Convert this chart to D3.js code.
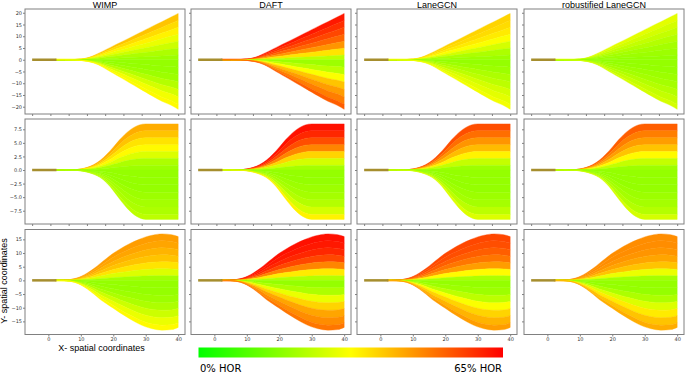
<!DOCTYPE html>
<html>
<head>
<meta charset="utf-8">
<title>HOR trajectories</title>
<script src="https://d3js.org/d3.v7.min.js"></script>
<style>
  body { margin: 0; background: #fff; }
  .tick text { font-family: "DejaVu Sans", sans-serif; font-size: 5px; fill: #333; }
  .tick line { stroke: #808080; }
</style>
</head>
<body>
<script>
// models (columns)
var models = ["WIMP", "DAFT", "LaneGCN", "robustified LaneGCN"];

var sampleX = [2, 5, 8, 10, 12, 14, 16, 18, 20, 22, 25, 28, 30, 32, 35, 38, 40];

// upper / lower envelope of the fan for each row (straight, turn, curve)
var upperRow1 = [0, 0, 0.1, 0.3, 0.8, 1.8, 3.1, 4.5, 5.9, 7.25, 9.3, 11.4, 12.8, 14.2, 16.2, 18.3, 19.7];
var lowerRow1 = [0, 0, -0.1, -0.3, -0.7, -1.4, -2.6, -4.2, -5.8, -7.4, -9.8, -12.2, -13.8, -15.4, -17.7, -19.5, -21.1];
var upperRow2 = [0, 0, 0.05, 0.2, 0.5, 1.0, 1.8, 2.9, 4.2, 5.6, 7.3, 8.3, 8.5, 8.5, 8.5, 8.5, 8.5];
var lowerRow2 = [0, 0, -0.05, -0.15, -0.4, -0.8, -1.4, -2.4, -3.8, -5.4, -7.5, -8.8, -9.1, -9.1, -9.1, -9.1, -9.1];
var upperRow3 = [0, 0.1, 0.6, 1.4, 2.7, 4.3, 6.2, 8.1, 9.9, 11.4, 13.4, 15.0, 15.9, 16.5, 17.0, 16.7, 16.0];
var lowerRow3 = [0, -0.1, -0.7, -1.7, -3.2, -5.0, -7.0, -8.6, -10.2, -11.8, -14.0, -16.0, -17.0, -17.7, -18.2, -18.0, -17.2];

// lateral position of the band edges, 1 = upper envelope, -1 = lower envelope
var bandEdges = [1, 0.85, 0.7, 0.55, 0.4, 0.25, 0.1, 0, -0.15, -0.3, -0.45, -0.6, -0.75, -0.9, -1];

// HOR (%) of each band, top to bottom, one list per row
var horWIMP = [
  [40, 37, 34, 30, 26, 22, 20, 19, 19, 20, 23, 27, 31, 33],
  [43, 40, 36, 33, 28, 22, 20, 19, 19, 19, 20, 21, 22, 24],
  [45, 44, 42, 40, 36, 28, 21, 19, 19, 20, 22, 26, 30, 33]
];
var horDAFT = [
  [62, 59, 56, 52, 46, 36, 24, 20, 24, 32, 40, 45, 49, 53],
  [63, 60, 55, 48, 38, 27, 21, 19, 19, 20, 21, 23, 27, 34],
  [63, 62, 60, 56, 48, 35, 23, 19, 22, 30, 38, 44, 47, 50]
];
var horLaneGCN = [
  [38, 37, 35, 32, 27, 22, 20, 19, 20, 22, 24, 27, 29, 31],
  [55, 51, 46, 41, 34, 25, 20, 19, 19, 19, 20, 21, 24, 28],
  [56, 55, 53, 50, 45, 33, 22, 19, 20, 24, 32, 38, 42, 45]
];
var horRobust = [
  [29, 27, 25, 23, 21, 20, 19, 19, 19, 20, 21, 23, 25, 27],
  [53, 49, 45, 40, 33, 25, 20, 19, 19, 19, 20, 21, 23, 27],
  [47, 47, 46, 44, 40, 30, 21, 19, 19, 22, 28, 35, 40, 43]
];
// colour of the merged start of the fan
var startHor = [
  [33, 55, 34, 30],
  [28, 36, 33, 30],
  [33, 52, 45, 42]
];

// tick values
var yTicksRow1 = [-20, -15, -10, -5, 0, 5, 10, 15, 20];
var yTicksRow2 = [-7.5, -5, -2.5, 0, 2.5, 5, 7.5];
var yTicksRow3 = [-15, -10, -5, 0, 5, 10, 15];
var xTicksTop = [-5, 0.625, 6.25, 11.875, 17.5, 23.125, 28.75, 34.375, 40];
var xTicksBottom = [0, 10, 20, 30, 40];

var upper = [upperRow1, upperRow2, upperRow3];
var lower = [lowerRow1, lowerRow2, lowerRow3];
var hor = [horWIMP, horDAFT, horLaneGCN, horRobust];
var yTicks = [yTicksRow1, yTicksRow2, yTicksRow3];
var yDomains = [[-23.1, 21.6], [-9.95, 9.4], [-19.8, 18.6]];
var yFormats = [d3.format("d"), d3.format(".1f"), d3.format("d")];

var colX = [25, 191, 357, 524];
var rowY = [9, 119, 229.5];
var panelW = 160, panelH = 105;
var xDomain = [-7.2, 42.1];

var color = d3.scaleLinear().domain([0, 32.5, 65]).range(["#00ff00", "#ffff00", "#ff0000"]).clamp(true);

var svg = d3.select("body").append("svg")
    .attr("width", 685)
    .attr("height", 372);

for (var r = 0; r < 3; r++) {
  for (var c = 0; c < 4; c++) {
    var x = d3.scaleLinear().domain(xDomain).range([colX[c], colX[c] + panelW]);
    var y = d3.scaleLinear().domain(yDomains[r]).range([rowY[r] + panelH, rowY[r]]);
    var g = svg.append("g");

    function lat(f, i) {
      return f >= 0 ? f * upper[r][i] : -f * lower[r][i];
    }

    // thin merged start of the fan
    g.append("line")
        .attr("x1", x(2)).attr("x2", x(10))
        .attr("y1", y(0)).attr("y2", y(0))
        .attr("stroke", color(startHor[r][c]))
        .attr("stroke-width", 2);

    // bands of the fan
    for (var b = 0; b < bandEdges.length - 1; b++) {
      var fa = bandEdges[b], fb = bandEdges[b + 1];
      var area = d3.area()
          .x(function(d, i) { return x(d); })
          .y0(function(d, i) { return y(lat(fb, i)); })
          .y1(function(d, i) { return y(lat(fa, i)); })
          .curve(d3.curveMonotoneX);
      var col = color(hor[c][r][b]);
      g.append("path")
          .attr("d", area(sampleX))
          .attr("fill", col)
          .attr("stroke", col)
          .attr("stroke-width", 0.4);
    }

    // observed history
    g.append("line")
        .attr("x1", x(-5)).attr("x2", x(2.5))
        .attr("y1", y(0)).attr("y2", y(0))
        .attr("stroke", "#a68e2e")
        .attr("stroke-width", 2.5);

    // frame
    g.append("rect")
        .attr("x", colX[c]).attr("y", rowY[r])
        .attr("width", panelW).attr("height", panelH)
        .attr("fill", "none")
        .attr("stroke", "#808080")
        .attr("stroke-width", 1);

    var ya = g.append("g")
        .attr("transform", "translate(" + colX[c] + ",0)")
        .call(d3.axisLeft(y).tickValues(yTicks[r]).tickSize(2).tickPadding(1)
          .tickFormat(c === 0 ? yFormats[r] : ""));
    ya.select(".domain").remove();

    var xa = g.append("g")
        .attr("transform", "translate(0," + (rowY[r] + panelH) + ")")
        .call(d3.axisBottom(x).tickValues(r === 2 ? xTicksBottom : xTicksTop).tickSize(2).tickPadding(1)
          .tickFormat(r === 2 ? d3.format("d") : ""));
    xa.select(".domain").remove();

    if (r === 0) {
      svg.append("text")
          .attr("x", colX[c] + panelW / 2)
          .attr("y", 7.5)
          .attr("text-anchor", "middle")
          .style("font-family", "Liberation Sans, Arial, sans-serif")
          .style("font-size", "9px")
          .text(models[c]);
    }
  }
}

// axis titles
svg.append("text")
    .attr("x", 101.5).attr("y", 351)
    .attr("text-anchor", "middle")
    .style("font-family", "Liberation Sans, Arial, sans-serif")
    .style("font-size", "9px")
    .text("X- spatial coordinates");

svg.append("text")
    .attr("transform", "translate(6.5,281) rotate(-90)")
    .attr("text-anchor", "middle")
    .style("font-family", "Liberation Sans, Arial, sans-serif")
    .style("font-size", "9px")
    .text("Y- spatial coordinates");

// colour bar
var grad = svg.append("defs").append("linearGradient")
    .attr("id", "horGrad");
grad.selectAll("stop")
    .data(color.domain())
    .enter().append("stop")
    .attr("offset", function(d) { return d / 65; })
    .attr("stop-color", function(d) { return color(d); });

var barX = d3.scaleLinear().domain([0, 65]).range([198.5, 503]);
svg.append("rect")
    .attr("x", barX(0)).attr("y", 347.5)
    .attr("width", barX(65) - barX(0)).attr("height", 10)
    .attr("fill", "url(#horGrad)");

svg.append("text")
    .attr("x", barX(0) + 1.5).attr("y", 371.5)
    .style("font-family", "DejaVu Sans, sans-serif")
    .style("font-size", "10px")
    .text("0% HOR");
svg.append("text")
    .attr("x", barX(65) - 1).attr("y", 371.5)
    .attr("text-anchor", "end")
    .style("font-family", "DejaVu Sans, sans-serif")
    .style("font-size", "10px")
    .text("65% HOR");
</script>
</body>
</html>
